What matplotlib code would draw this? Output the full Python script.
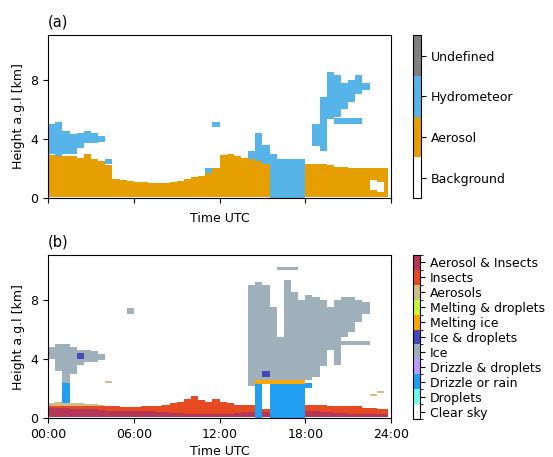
import matplotlib
matplotlib.use('Agg')
import matplotlib.pyplot as plt
from matplotlib.colors import ListedColormap, BoundaryNorm
import numpy as np

# ---- data: values per half-hour bin (index 0 = 00:00-00:30), heights in km ----
# panel (a): simple target classification
class_labels_a = ['Background', 'Aerosol', 'Hydrometeor', 'Undefined']
class_colors_a = ['#ffffff', '#E69F00', '#56B4E9', '#808080']

aer_top_a = [2.9, 2.8, 2.8, 2.8, 2.7, 3.0, 2.6, 2.5, 2.2, 1.3, 1.2, 1.15,
             1.1, 1.05, 1.0, 1.0, 1.0, 1.05, 1.15, 1.3, 1.4, 1.5, 1.7, 2.0,
             2.9, 3.0, 2.8, 2.7, 2.6, 2.5, 2.3, 0, 0, 0, 0, 0,
             2.3, 2.3, 2.3, 2.2, 2.1, 2.1, 2.0, 2.0, 2.0, 2.0, 2.0, 2.0]
aer_gap_lo_a = [0] * 45 + [0.5, 0.4, 0]
aer_gap_hi_a = [0] * 45 + [1.2, 1.1, 0]

hyd1_base_a = [3.0, 2.8, 3.0, 3.0, 3.4, 3.7, 3.7, 3.8, 2.3, 0, 0, 0,
               0, 0, 0, 0, 0, 0, 0, 0, 0, 0, 1.7, 4.8,
               0, 0, 0, 0, 2.6, 2.5, 2.3, 0, 0, 0, 0, 0,
               0, 3.5, 3.2, 5.3, 5.0, 5.0, 5.0, 5.0, 7.3, 0, 0, 0]
hyd1_top_a = [5.0, 5.1, 4.5, 4.3, 4.4, 4.5, 4.4, 4.2, 2.6, 0, 0, 0,
              0, 0, 0, 0, 0, 0, 0, 0, 0, 0, 2.0, 5.1,
              0, 0, 0, 0, 3.2, 4.4, 3.6, 3.0, 2.6, 2.6, 2.6, 2.6,
              0, 5.0, 6.8, 8.5, 5.4, 5.4, 5.4, 5.4, 7.8, 0, 0, 0]
hyd2_base_a = [0] * 40 + [5.5, 6.0, 6.5, 7.0] + [0] * 4
hyd2_top_a = [0] * 40 + [8.3, 7.8, 8.0, 8.3] + [0] * 4

# panel (b): Cloudnet target classification
class_labels_b = ['Clear sky', 'Droplets', 'Drizzle or rain', 'Drizzle & droplets',
                  'Ice', 'Ice & droplets', 'Melting ice', 'Melting & droplets',
                  'Aerosols', 'Insects', 'Aerosol & Insects']
class_colors_b = ['#ffffff', '#6CFFEC', '#209FF3', '#BF9AFF', '#a0b0bb', '#464AB9',
                  '#ffa500', '#C7FA3A', '#CEBC89', '#E64A23', '#B43757']

ai_top_b = [0.7, 0.7, 0.7, 0.6, 0.6, 0.6, 0.6, 0.55, 0.5, 0.5, 0.5, 0.5,
            0.45, 0.45, 0.45, 0.4, 0.4, 0.35, 0.35, 0.3, 0.3, 0.3, 0.3, 0.3,
            0.3, 0.3, 0.35, 0.4, 0.4, 0, 0.4, 0, 0, 0, 0, 0,
            0.5, 0.5, 0.4, 0.4, 0.35, 0.35, 0.3, 0.3, 0.3, 0.3, 0.25, 0.25]
ins_top_b = [0.85, 0.85, 0.85, 0.8, 0.8, 0.8, 0.8, 0.8, 0.8, 0.8, 0.75, 0.75,
             0.75, 0.8, 0.8, 0.85, 0.9, 1.0, 1.1, 1.3, 1.5, 1.2, 1.1, 1.3,
             1.1, 1.0, 0.9, 0.9, 0.9, 0, 0.6, 0, 0, 0, 0, 0,
             0.9, 0.9, 0.9, 0.85, 0.85, 0.85, 0.8, 0.8, 0.7, 0.7, 0.65, 0.6]
aer_top_b = [1.05, 1.1, 1.1, 1.0, 1.0, 0.95, 0.95, 0.9] + [0] * 40
aer_speck_base_b = [0] * 8 + [2.4] + [0] * 36 + [1.5, 1.7, 0]
aer_speck_top_b = [0] * 8 + [2.5] + [0] * 36 + [1.6, 1.8, 0]

rain_base_b = [0, 0, 1.0] + [0] * 26 + [0, 0, 0, 0, 0, 0, 0, 2.0] + [0] * 11
rain_top_b = [0, 0, 2.4] + [0] * 26 + [2.3, 0, 2.3, 2.3, 2.3, 2.3, 2.3, 2.4] + [0] * 11
melt_base_b = [0] * 29 + [2.3] * 7 + [0] * 12
melt_top_b = [0] * 29 + [2.6] * 7 + [0] * 12

ice1_base_b = [4.0, 3.2, 2.4, 3.0, 3.6, 3.8, 3.8, 3.9, 0, 0, 0, 7.0,
               0, 0, 0, 0, 0, 0, 0, 0, 0, 0, 0, 0,
               0, 0, 0, 0, 2.2, 2.6, 2.6, 2.6, 2.6, 2.6, 2.6, 2.6,
               2.6, 2.8, 3.5, 4.6, 3.6, 5.5, 5.8, 6.5, 7.0, 0, 0, 0]
ice1_top_b = [4.8, 5.0, 5.0, 4.8, 4.6, 4.6, 4.5, 4.3, 0, 0, 0, 7.4,
              0, 0, 0, 0, 0, 0, 0, 0, 0, 0, 0, 0,
              0, 0, 0, 0, 9.0, 9.2, 9.0, 7.5, 5.5, 9.3, 8.5, 8.0,
              8.3, 8.2, 8.0, 7.5, 8.0, 8.2, 8.2, 8.0, 7.8, 0, 0, 0]
ice2_base_b = [0] * 32 + [10.0, 10.0, 10.0] + [0] * 6 + [4.9, 4.9, 4.9, 4.9] + [0] * 3
ice2_top_b = [0] * 32 + [10.2, 10.2, 10.2] + [0] * 6 + [5.2, 5.2, 5.2, 5.2] + [0] * 3
icedrop_base_b = [0] * 4 + [4.0] + [0] * 25 + [2.8] + [0] * 17
icedrop_top_b = [0] * 4 + [4.4] + [0] * 25 + [3.2] + [0] * 17

# ---- build the classification grids ----
t_edges = np.arange(0, 24.01, 0.5)
t_edges[-1] = 23.8
h_edges = np.arange(0, 11.001, 0.05)
hc = 0.5 * (h_edges[:-1] + h_edges[1:])
nt = len(t_edges) - 1


def fill(grid, base, top, code):
    for i in range(nt):
        b = base[i] if not np.isscalar(base) else base
        if top[i] > b:
            grid[(hc >= b) & (hc < top[i]), i] = code


grid_a = np.zeros((len(hc), nt))
fill(grid_a, 0.05, aer_top_a, 1)
fill(grid_a, aer_gap_lo_a, aer_gap_hi_a, 0)
fill(grid_a, hyd1_base_a, hyd1_top_a, 2)
fill(grid_a, hyd2_base_a, hyd2_top_a, 2)

grid_b = np.zeros((len(hc), nt))
fill(grid_b, 0.05, ai_top_b, 10)
fill(grid_b, ai_top_b, ins_top_b, 9)
fill(grid_b, ins_top_b, aer_top_b, 8)
fill(grid_b, aer_speck_base_b, aer_speck_top_b, 8)
fill(grid_b, rain_base_b, rain_top_b, 2)
fill(grid_b, melt_base_b, melt_top_b, 6)
fill(grid_b, ice1_base_b, ice1_top_b, 4)
fill(grid_b, ice2_base_b, ice2_top_b, 4)
fill(grid_b, icedrop_base_b, icedrop_top_b, 5)

# ---- plot ----
plt.rcParams['font.family'] = ['DejaVu Sans']
fig = plt.figure(figsize=(5.53, 4.57), dpi=100)
ax_a = fig.add_axes([0.087, 0.567, 0.620, 0.356])
ax_b = fig.add_axes([0.087, 0.085, 0.620, 0.357])
cax_a = fig.add_axes([0.747, 0.567, 0.015, 0.356])
cax_b = fig.add_axes([0.747, 0.083, 0.013, 0.359])

panels = [(ax_a, cax_a, grid_a, class_colors_a, class_labels_a, '(a)'),
          (ax_b, cax_b, grid_b, class_colors_b, class_labels_b, '(b)')]

for ax, cax, grid, colors, labels, tag in panels:
    n = len(colors)
    cmap = ListedColormap(colors)
    norm = BoundaryNorm(np.arange(-0.5, n), n)
    mesh = ax.pcolormesh(t_edges, h_edges, grid, cmap=cmap, norm=norm,
                         shading='flat', rasterized=True)
    ax.set_xlim(0, 24)
    ax.set_ylim(0, 11)
    ax.set_xticks([0, 6, 12, 18, 24])
    ax.set_yticks([0, 4, 8])
    ax.set_ylabel('Height a.g.l [km]', fontsize=9)
    ax.set_xlabel('Time UTC', fontsize=9, labelpad=3)
    ax.tick_params(labelsize=9)
    ax.set_title(tag, loc='left', fontsize=10.5, pad=6)
    cb = fig.colorbar(mesh, cax=cax, ticks=np.arange(n))
    cb.ax.set_yticklabels(labels)
    cb.ax.tick_params(labelsize=9)
    if n == 4:
        cb.ax.minorticks_off()

ax_a.set_xticklabels([])
ax_b.set_xticklabels(['00:00', '06:00', '12:00', '18:00', '24:00'])

fig.savefig('out.png', dpi=100)
